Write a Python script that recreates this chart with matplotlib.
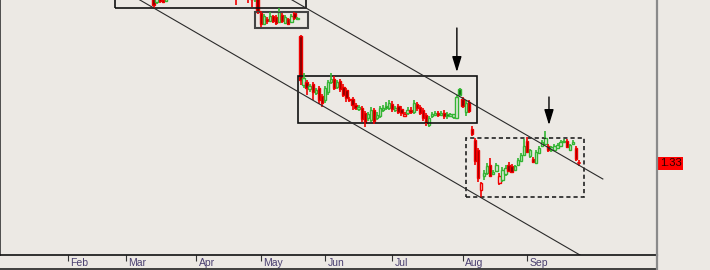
import numpy as np
import matplotlib
matplotlib.use('Agg')
import matplotlib.pyplot as plt
from matplotlib.patches import Rectangle
from matplotlib.lines import Line2D
import matplotlib.transforms as mtransforms

# daily bars, bar index counted in trading days from 1 Feb
first_bar = 27
opens = [2.062, 2.038, 1.974, 1.994, 1.982, 1.978, 2.014, 2.038, 2.054, 2.070,
         2.086, 2.078, 2.062, 2.082, 2.102, 2.094, 2.078, 2.066, 2.086, 2.070,
         2.050, 2.062, 2.082, 2.070, 2.054, 2.038, 2.050, 2.062, 2.054, 2.014,
         2.030, 2.042, 2.022, 1.994, 1.986, 2.014, 1.930, 1.886, 1.906, 1.898,
         1.918, 1.914, 1.894, 1.922, 1.890, 1.906, 1.894, 1.930, 1.906, 1.838,
         1.642, 1.654, 1.626, 1.646, 1.610, 1.630, 1.598, 1.582, 1.614, 1.654,
         1.666, 1.634, 1.658, 1.634, 1.622, 1.582, 1.586, 1.562, 1.546, 1.550,
         1.530, 1.510, 1.502, 1.542, 1.510, 1.518, 1.542, 1.558, 1.550, 1.566,
         1.542, 1.558, 1.546, 1.518, 1.530, 1.542, 1.534, 1.566, 1.554, 1.542,
         1.522, 1.482, 1.518, 1.522, 1.530, 1.522, 1.530, 1.526, 1.518, 1.514,
         1.510, 1.626, 1.586, 1.534, 1.574, 1.466, 1.422, 1.382, 1.222, 1.278,
         1.290, 1.322, 1.286, 1.298, 1.250, 1.262, 1.286, 1.322, 1.318, 1.302,
         1.322, 1.338, 1.362, 1.418, 1.358, 1.346, 1.330, 1.370, 1.398, 1.406,
         1.398, 1.382, 1.382, 1.390, 1.398, 1.414, 1.418, 1.382, 1.406, 1.390,
         1.330]
highs = [2.086, 2.054, 1.998, 2.014, 2.002, 2.030, 2.054, 2.070, 2.082, 2.102,
         2.110, 2.102, 2.094, 2.118, 2.126, 2.118, 2.102, 2.094, 2.110, 2.090,
         2.078, 2.094, 2.106, 2.094, 2.078, 2.062, 2.074, 2.086, 2.074, 2.046,
         2.058, 2.066, 2.042, 2.022, 2.014, 2.030, 1.938, 1.926, 1.914, 1.934,
         1.922, 1.922, 1.950, 1.930, 1.922, 1.910, 1.926, 1.934, 1.914, 1.842,
         1.690, 1.662, 1.646, 1.654, 1.630, 1.638, 1.606, 1.638, 1.662, 1.690,
         1.678, 1.662, 1.666, 1.646, 1.630, 1.594, 1.594, 1.570, 1.562, 1.558,
         1.538, 1.534, 1.554, 1.550, 1.534, 1.558, 1.562, 1.574, 1.582, 1.578,
         1.558, 1.566, 1.558, 1.534, 1.554, 1.554, 1.582, 1.574, 1.562, 1.550,
         1.530, 1.518, 1.534, 1.538, 1.538, 1.538, 1.542, 1.534, 1.530, 1.526,
         1.602, 1.630, 1.594, 1.582, 1.582, 1.478, 1.430, 1.390, 1.254, 1.302,
         1.330, 1.350, 1.302, 1.330, 1.290, 1.314, 1.322, 1.334, 1.326, 1.322,
         1.350, 1.370, 1.426, 1.434, 1.386, 1.354, 1.382, 1.398, 1.422, 1.458,
         1.406, 1.398, 1.406, 1.410, 1.422, 1.426, 1.426, 1.406, 1.422, 1.398,
         1.342]
lows = [2.038, 1.950, 1.966, 1.970, 1.970, 1.974, 1.998, 2.014, 2.030, 2.046,
        2.062, 2.054, 2.042, 2.062, 2.078, 2.070, 2.054, 2.042, 2.062, 2.038,
        2.030, 2.046, 2.054, 2.042, 2.022, 2.014, 2.026, 2.038, 1.962, 1.990,
        2.006, 2.002, 1.970, 1.954, 1.974, 1.926, 1.874, 1.882, 1.886, 1.894,
        1.890, 1.882, 1.890, 1.890, 1.886, 1.882, 1.890, 1.902, 1.902, 1.642,
        1.630, 1.602, 1.614, 1.582, 1.602, 1.566, 1.554, 1.570, 1.602, 1.646,
        1.622, 1.626, 1.614, 1.594, 1.574, 1.574, 1.542, 1.542, 1.538, 1.494,
        1.474, 1.498, 1.494, 1.486, 1.502, 1.510, 1.534, 1.542, 1.542, 1.534,
        1.534, 1.526, 1.518, 1.514, 1.522, 1.526, 1.526, 1.538, 1.522, 1.498,
        1.478, 1.474, 1.510, 1.518, 1.514, 1.518, 1.506, 1.506, 1.514, 1.506,
        1.506, 1.598, 1.550, 1.518, 1.530, 1.438, 1.322, 1.254, 1.190, 1.262,
        1.282, 1.274, 1.282, 1.294, 1.242, 1.254, 1.278, 1.294, 1.290, 1.298,
        1.318, 1.334, 1.358, 1.370, 1.350, 1.330, 1.326, 1.366, 1.394, 1.402,
        1.374, 1.374, 1.378, 1.386, 1.394, 1.410, 1.390, 1.378, 1.402, 1.338,
        1.318]
closes = [2.042, 1.962, 1.990, 1.978, 1.974, 2.014, 2.038, 2.054, 2.070, 2.086,
          2.078, 2.062, 2.082, 2.102, 2.094, 2.078, 2.066, 2.086, 2.070, 2.050,
          2.062, 2.082, 2.070, 2.054, 2.038, 2.050, 2.062, 2.054, 2.014, 2.030,
          2.042, 2.022, 1.994, 1.986, 2.006, 1.934, 1.886, 1.918, 1.898, 1.918,
          1.898, 1.890, 1.934, 1.898, 1.914, 1.886, 1.918, 1.910, 1.910, 1.662,
          1.670, 1.630, 1.638, 1.614, 1.622, 1.582, 1.570, 1.630, 1.654, 1.666,
          1.630, 1.654, 1.626, 1.602, 1.590, 1.586, 1.562, 1.550, 1.554, 1.506,
          1.494, 1.526, 1.542, 1.498, 1.522, 1.550, 1.550, 1.550, 1.570, 1.546,
          1.550, 1.534, 1.530, 1.526, 1.542, 1.534, 1.570, 1.550, 1.530, 1.510,
          1.490, 1.510, 1.526, 1.530, 1.522, 1.530, 1.518, 1.518, 1.526, 1.526,
          1.594, 1.602, 1.558, 1.570, 1.538, 1.446, 1.338, 1.270, 1.250, 1.290,
          1.318, 1.278, 1.294, 1.322, 1.278, 1.302, 1.310, 1.298, 1.294, 1.318,
          1.342, 1.362, 1.398, 1.374, 1.382, 1.334, 1.374, 1.390, 1.414, 1.430,
          1.382, 1.394, 1.398, 1.402, 1.414, 1.418, 1.394, 1.402, 1.414, 1.346,
          1.330]

month_bars = [0, 19, 42, 63, 84, 106, 129, 150]
month_labels = ['Feb', 'Mar', 'Apr', 'May', 'Jun', 'Jul', 'Aug', 'Sep']

# falling channel lines (bar, price)
chan_low_x = [20, 170]
chan_low_y = [2.007, 0.943]
chan_up_x = [70, 174.8]
chan_up_y = [2.005, 1.266]

# consolidation boxes: bar from, bar to, price low, price high
box_top = [15.4, 77.8, 1.950, 2.200]
box_may = [61.1, 78.4, 1.870, 1.934]
box_jun = [75.2, 133.7, 1.490, 1.678]
box_aug = [130.1, 168.6, 1.194, 1.430]

# arrows: bar, price from, price to
arrow_bars = [127.1, 157.2]
arrow_from = [1.870, 1.594]
arrow_to = [1.694, 1.482]

last_price = 1.33

bg = '#ECE9E4'
up_col = '#33B533'
dn_col = '#F00000'
up_fill = '#0A640A'
dn_fill = '#7A0000'

fig = plt.figure(figsize=(7.1, 2.7), dpi=100, facecolor=bg)
ax = fig.add_axes([0, 15 / 270, 657 / 710, 255 / 270])
ax.set_facecolor(bg)

bars = np.arange(first_bar, first_bar + len(closes))
w = 0.78
for k in range(len(bars)):
    x = bars[k]
    o, hi, lo, c = opens[k], highs[k], lows[k], closes[k]
    prev = closes[k - 1] if k > 0 else o
    col = up_col if c >= prev else dn_col
    top, bot = max(o, c), min(o, c)
    ax.plot([x, x], [top, hi], color=col, lw=1.2, solid_capstyle='butt')
    ax.plot([x, x], [lo, bot], color=col, lw=1.2, solid_capstyle='butt')
    if top - bot < 0.002:
        ax.plot([x - w / 2, x + w / 2], [c, c], color=col, lw=1.2)
        continue
    if c > o:
        face = bg
    else:
        face = up_fill if col == up_col else dn_fill
    ax.add_patch(Rectangle((x - w / 2, bot), w, top - bot, facecolor=face,
                           edgecolor=col, lw=1.0))

# channel
ax.plot(chan_low_x, chan_low_y, color='#2a2a2a', lw=0.8)
ax.plot(chan_up_x, chan_up_y, color='#2a2a2a', lw=0.8)

# boxes
for b, ec, lw, ls in [(box_top, '#111111', 1.2, '-'), (box_may, '#444444', 1.5, '-'),
                      (box_jun, '#111111', 1.2, '-'), (box_aug, '#222222', 1.2, (0, (2.5, 1.8)))]:
    ax.add_patch(Rectangle((b[0], b[2]), b[1] - b[0], b[3] - b[2], fill=False,
                           edgecolor=ec, lw=lw, linestyle=ls))

for xb, y0, y1 in zip(arrow_bars, arrow_from, arrow_to):
    ax.annotate('', xy=(xb, y1), xytext=(xb, y0),
                arrowprops=dict(arrowstyle='-|>,head_length=0.62,head_width=0.19',
                                color='black', lw=1.0, shrinkA=0, shrinkB=0,
                                mutation_scale=15))

ax.set_xlim(-22.2, 192.5)
ax.set_ylim(0.962, 1.982)

ax.set_yticks([])
ax.set_xticks(month_bars)
ax.set_xticklabels([])
ax.tick_params(axis='x', direction='out', length=4, width=0.8, color='#333333')
for b, lab in zip(month_bars, month_labels):
    ax.text(b + 0.8, -0.01, lab, transform=ax.get_xaxis_transform(), ha='left', va='top',
            fontsize=7.5, color='#4a4070', family='Liberation Sans')

ax.spines['top'].set_visible(False)
ax.spines['left'].set_color('#333333')
ax.spines['left'].set_linewidth(1.2)
ax.spines['bottom'].set_color('#111111')
ax.spines['bottom'].set_linewidth(1.2)
ax.spines['right'].set_color('#8a8a8a')
ax.spines['right'].set_linewidth(1.6)

# frame of the date strip
fig.add_artist(Line2D([0, 657 / 710], [0.8 / 270, 0.8 / 270], color='#222222', lw=1.2))
fig.add_artist(Line2D([657 / 710, 657 / 710], [0, 15 / 270], color='#8a8a8a', lw=1.6))

# last price tag
trans = mtransforms.blended_transform_factory(ax.transAxes, ax.transData)
ax.add_patch(Rectangle((1.0 + 1 / 657, last_price - 0.026), 25 / 657, 0.052, transform=trans,
                       facecolor='#ff0000', edgecolor='none', clip_on=False))
ax.text(1.0 + 13.5 / 657, last_price, '%.2f' % last_price, transform=trans, ha='center',
        va='center', fontsize=8, color='#2a0000', family='Liberation Sans', clip_on=False)

fig.savefig('out.png', dpi=100, facecolor=bg)
